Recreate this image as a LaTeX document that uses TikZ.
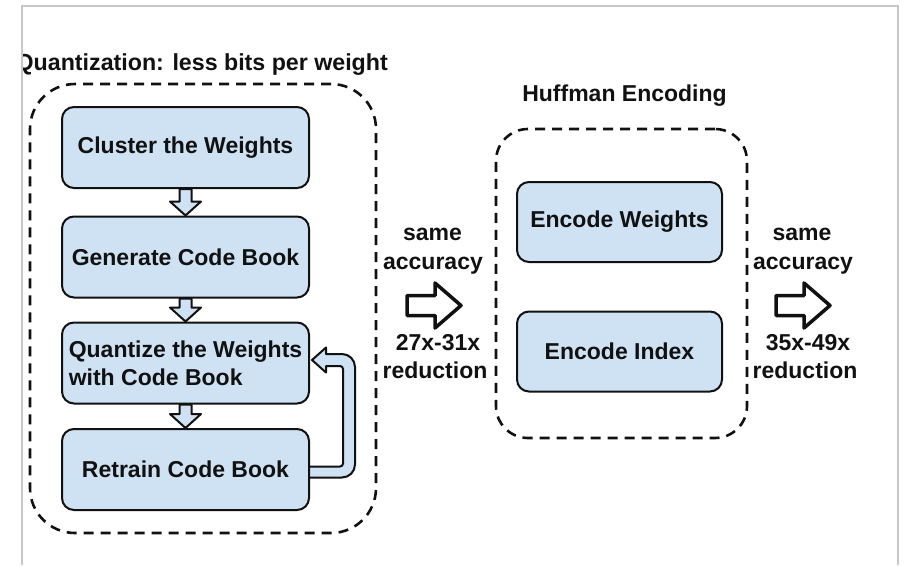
\documentclass[tikz,border=0pt]{standalone}
\usepackage{fontspec}
\setmainfont{Liberation Sans}
\usetikzlibrary{calc,backgrounds}
\definecolor{boxblue}{HTML}{CFE2F3}
\definecolor{framegray}{HTML}{C8C8C8}
\definecolor{ink}{HTML}{111111}
\begin{document}
\begin{tikzpicture}[x=1pt,y=-1pt,
  stepbox/.style={draw=ink, line width=2pt, fill=boxblue, rounded corners=12pt,
    minimum width=247pt, minimum height=81pt, inner sep=0pt,
    font=\fontsize{23}{28}\selectfont\bfseries, text=ink},
  groupbox/.style={draw=ink, line width=2.6pt, dash pattern=on 10pt off 7pt, inner sep=0pt},
  txtlabel/.style={font=\fontsize{23}{29}\selectfont\bfseries, text=ink, inner sep=0pt},
  flowarrow/.style={draw=ink, line width=2pt, fill=boxblue, line join=round},
  gaparrow/.style={draw=ink, line width=3.5pt, fill=white, line join=round}]
\useasboundingbox (0,0) rectangle (907,565);

% title of the quantization stage, cut by the page frame
\begin{scope}
  \clip (22.7,0) rectangle (907,565);
  \node[txtlabel, font=\fontsize{23.2}{29}\selectfont\bfseries, anchor=base east] (qtitle) at (388,70) {Quantization: less bits per weight};
\end{scope}

% group outlines
\node[groupbox, rounded corners=45pt, minimum width=346pt, minimum height=449pt] (qgroup) at (203,308.5) {};
\node[groupbox, rounded corners=32pt, minimum width=251pt, minimum height=309pt] (hgroup) at (621.5,283.5) {};

% quantization steps
\node[stepbox] (c1) at (185.5,147.5) {Cluster the Weights};
\node[stepbox] (c2) at (185.5,257) {Generate Code Book};
\node[stepbox, align=left] (q) at (185.5,363) {Quantize the Weights\\with Code Book};
\node[stepbox] (r) at (185.5,469.5) {Retrain Code Book};

% Huffman stage
\node[txtlabel, anchor=base] (htitle) at (624.5,101) {Huffman Encoding};
\node[stepbox, minimum width=205pt, minimum height=80pt] (ew) at (619.5,222) {Encode Weights};
\node[stepbox, minimum width=205pt, minimum height=80pt] (ei) at (619.5,351.5) {Encode Index};

% block arrows between steps
\begin{scope}[on background layer]
  \foreach \a/\b in {c1/c2, c2/q, q/r}{
    \draw[flowarrow] ($(\a.south)+(-6,0)$) -- ($(\b.north)+(-6,-14)$)
      -- ($(\b.north)+(-15.5,-14)$) -- (\b.north) -- ($(\b.north)+(15.5,-14)$)
      -- ($(\b.north)+(6,-14)$) -- ($(\a.south)+(6,0)$) -- cycle;
  }
  % feedback from retraining back to quantization
  \draw[flowarrow] ($(r.east)+(-2,-3)$) [rounded corners=3pt]
      -- ($(r.east)+(33,-3)$) -- ($(q.east)+(33,3)$) [sharp corners]
      -- ($(q.east)+(16,3)$) -- ($(q.east)+(16,9.5)$) -- ($(q.east)+(2,-3)$)
      -- ($(q.east)+(16,-15.5)$) -- ($(q.east)+(16,-9)$) [rounded corners=13pt]
      -- ($(q.east)+(45,-9)$) -- ($(r.east)+(45,8)$) [sharp corners]
      -- ($(r.east)+(-2,8)$);
\end{scope}

% stage transitions
\coordinate (m1) at (407,305.5);
\coordinate (m2) at (776,305.5);
\foreach \m in {m1,m2}{
  \draw[gaparrow] ($(\m)+(0,-10)$) -- ++(28,0) -- ++(0,-12.5) -- ++(26,22.5)
    -- ++(-26,22.5) -- ++(0,-12.5) -- ++(-28,0) -- cycle;
}
\node[txtlabel, anchor=base] (s1a) at (432.5,240) {same};
\node[txtlabel, anchor=base] (s1b) at (433,269) {accuracy};
\node[txtlabel, anchor=base] (s1c) at (438,350) {27x-31x};
\node[txtlabel, anchor=base] (s1d) at (435,378) {reduction};
\node[txtlabel, anchor=base] (s2a) at (802,240) {same};
\node[txtlabel, anchor=base] (s2b) at (803,269) {accuracy};
\node[txtlabel, anchor=base] (s2c) at (808,350) {35x-49x};
\node[txtlabel, anchor=base] (s2d) at (805,378) {reduction};

% page frame
\draw[framegray, line width=1.3pt] (22,565) -- (22,6) -- (898,6) -- (898,565);
\end{tikzpicture}
\end{document}
